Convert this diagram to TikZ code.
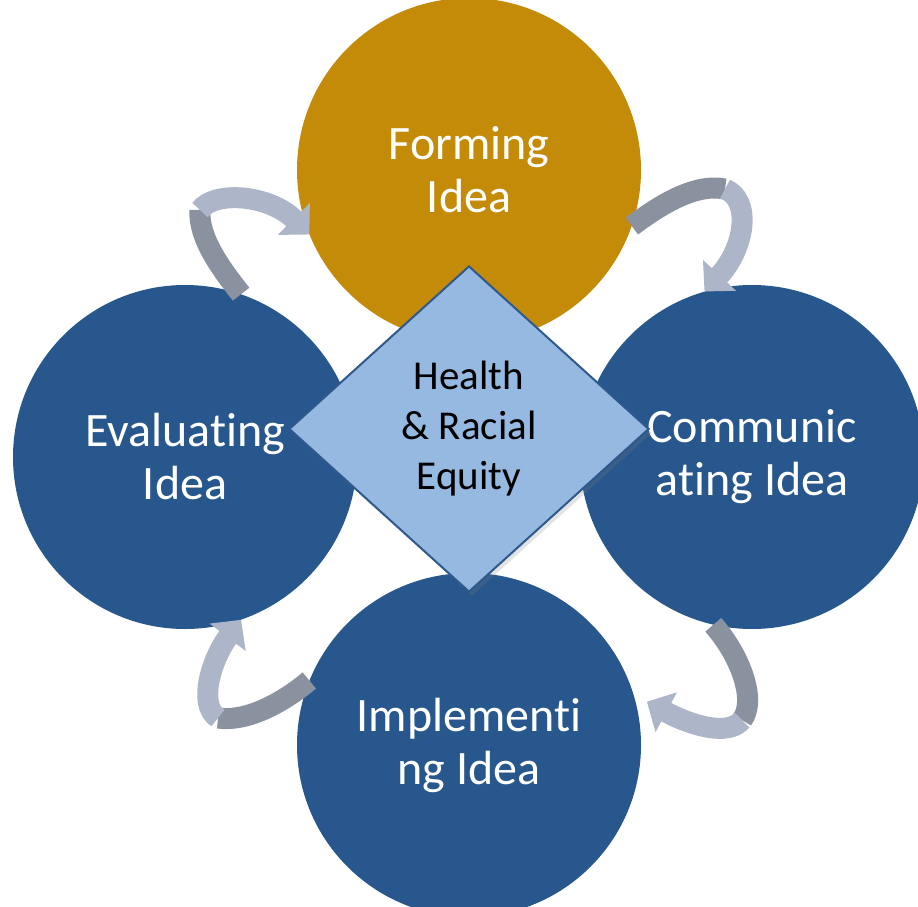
\documentclass[tikz,border=0pt]{standalone}
\usepackage{fontspec}
\setmainfont{Carlito}[Ligatures={NoCommon}]
\usetikzlibrary{shapes.geometric,arrows.meta,shadows}
\definecolor{gold}{RGB}{195,139,8}
\definecolor{navy}{RGB}{39,87,140}
\definecolor{skyfill}{RGB}{149,185,225}
\definecolor{skyline}{RGB}{47,88,140}
\definecolor{banddark}{RGB}{138,145,159}
\definecolor{bandlight}{RGB}{173,181,200}
\tikzset{
  font=\fontsize{48}{53}\selectfont
}

\begin{document}
\begin{tikzpicture}[x=1pt,y=-1pt,
  stage/.style={circle,fill=navy,text=white,minimum size=344pt,inner sep=0pt,align=center},
  core/.style={diamond,draw=skyline,line width=2pt,fill=skyfill,minimum width=360pt,minimum height=326pt,inner sep=0pt,align=center,font=\fontsize{41}{50}\selectfont,drop shadow={shadow xshift=3pt,shadow yshift=-4pt,opacity=.22}},
  back/.style={line width=21pt,draw=banddark},
  front/.style={line width=21pt,draw=bandlight,-{Triangle[width=44pt,length=22pt]}}]
\useasboundingbox (0,0) rectangle (918,907);
\node[stage,fill=gold] (forming) at (469,170) {Forming\\Idea};
\node[stage] (evaluating) at (185,457) {Evaluating\\Idea};
\node[stage] (communicating) at (752,457) {Communic\\ating Idea};
\node[stage] (implementing) at (469,745) {Implementi\\ng Idea};
\node[core] (equity) at (469,429) {Health\\\& Racial\\Equity};
% turning arrows between the stages
\coordinate (bendA) at (200,210);
\coordinate (bendB) at (725,189);
\coordinate (bendC) at (742,720);
\coordinate (bendD) at (218,718);
\draw[back] (evaluating.71) .. controls (222,270) and (198,238) .. (bendA);
\draw[front] (bendA) .. controls (215,190) and (270,195) .. (forming.202);
\draw[back] (forming.341) .. controls (660,205) and (695,183) .. (bendB);
\draw[front] (bendB) .. controls (752,200) and (745,248) .. (communicating.106);
\draw[back] (communicating.257) .. controls (740,655) and (757,700) .. (bendC);
\draw[front,shorten >=15pt] (bendC) .. controls (728,737) and (690,725) .. (implementing.17);
\draw[back] (implementing.158) .. controls (280,705) and (245,722) .. (bendD);
\draw[front] (bendD) .. controls (197,705) and (212,658) .. (evaluating.289);
\end{tikzpicture}
\end{document}
